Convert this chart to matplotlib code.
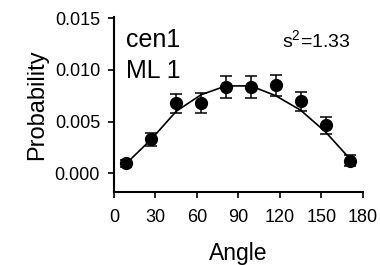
import numpy as np
import matplotlib
matplotlib.use('Agg')
import matplotlib.pyplot as plt

# 数据：角度分布（每18度一个bin）
angles = [9, 27, 45, 63, 81, 99, 117, 135, 153, 171]
prob = [0.00097, 0.00329, 0.00677, 0.00683, 0.00838, 0.00832, 0.00851, 0.00696, 0.00464, 0.00122]
err = [0.00035, 0.00060, 0.00090, 0.00095, 0.00105, 0.00105, 0.00100, 0.00090, 0.00085, 0.00055]
fit = [0.00097, 0.00330, 0.00600, 0.00760, 0.00845, 0.00845, 0.00750, 0.00610, 0.00400, 0.00135]

xticks = [0, 30, 60, 90, 120, 150, 180]
yticks = [0.000, 0.005, 0.010, 0.015]
ytick_labels = ['0.000', '0.005', '0.010', '0.015']

plt.rcParams['font.family'] = ['Liberation Sans', 'DejaVu Sans']

fig = plt.figure(figsize=(3.8, 2.65), dpi=100)
ax = fig.add_axes([0.3, 0.2755, 0.655, 0.66])

ax.plot(angles, fit, color='k', lw=1.2, zorder=2)
ax.errorbar(angles, prob, yerr=err, fmt='o', color='k', ms=8.5,
            elinewidth=1.1, capsize=4.5, capthick=1.1, zorder=3)

ax.set_xlim(0, 180)
ax.set_ylim(-0.0018, 0.0151)
ax.set_xticks(xticks)
ax.set_xticklabels([str(t) for t in xticks])
ax.set_yticks(yticks)
ax.set_yticklabels(ytick_labels)
ax.tick_params(direction='out', length=4, width=1.2, labelsize=13, pad=8)
ax.tick_params(axis='y', pad=6)

for s in ['top', 'right']:
    ax.spines[s].set_visible(False)
for s in ['left', 'bottom']:
    ax.spines[s].set_linewidth(1.5)

ax.set_xlabel('Angle', fontsize=16.5, labelpad=12)
ax.set_ylabel('Probability', fontsize=17, labelpad=5)

ax.text(0.05, 0.83, 'cen1', transform=ax.transAxes, fontsize=18)
ax.text(0.05, 0.65, 'ML 1', transform=ax.transAxes, fontsize=18)
ax.text(0.675, 0.83, r'$\mathregular{s^2}$=1.33', transform=ax.transAxes, fontsize=14)

fig.savefig('out.png', dpi=100)
